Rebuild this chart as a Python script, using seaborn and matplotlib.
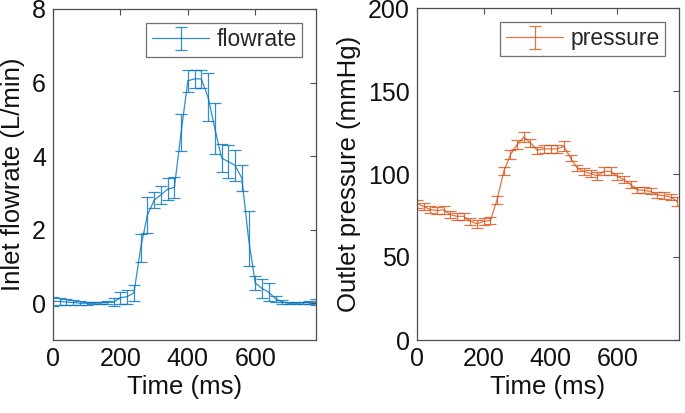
import numpy as np
import pandas as pd
import matplotlib
matplotlib.use('Agg')
import matplotlib.pyplot as plt
import seaborn as sns

# --- data (every 20 ms) ---
time_ms = list(range(0, 800, 20))

flow_mean = [0.05, 0.05, 0.03, 0.02, 0.0, 0.0, 0.0, 0.01, 0.02, 0.03,
             0.15, 0.18, 0.28, 1.5, 2.4, 2.8, 2.95, 3.1, 3.15, 4.65,
             6.05, 6.1, 6.1, 5.6, 4.75, 3.95, 3.85, 3.75, 3.4, 1.75,
             0.55, 0.4, 0.3, 0.12, 0.03, 0.0, 0.0, 0.01, 0.02, 0.03]
flow_err = [0.12, 0.1, 0.08, 0.06, 0.05, 0.04, 0.03, 0.03, 0.05, 0.1,
            0.16, 0.19, 0.22, 0.37, 0.5, 0.22, 0.25, 0.3, 0.28, 0.5,
            0.3, 0.25, 0.25, 0.65, 0.7, 0.37, 0.45, 0.42, 0.35, 0.75,
            0.2, 0.25, 0.25, 0.08, 0.05, 0.03, 0.03, 0.03, 0.05, 0.08]

press_mean = [82.1, 80.5, 78.5, 78.0, 78.5, 75.5, 74.5, 74.5, 71.5, 70.0,
              71.5, 72.0, 84.5, 101.6, 111.7, 117.7, 122.3, 118.7, 114.3, 115.1,
              115.1, 115.1, 116.7, 109.7, 103.6, 101.6, 100.2, 99.0, 101.6, 101.6,
              98.6, 96.6, 93.6, 90.5, 90.1, 89.5, 87.5, 86.9, 86.1, 83.5]
press_err = [2.5, 2.2, 2.0, 2.0, 2.5, 2.0, 2.0, 2.3, 2.0, 2.5,
             2.0, 2.0, 2.5, 2.5, 2.5, 2.5, 2.8, 2.5, 2.0, 2.5,
             2.5, 2.5, 3.0, 2.0, 2.0, 2.0, 2.0, 2.5, 2.5, 2.5,
             2.0, 2.0, 2.0, 1.8, 1.8, 1.8, 1.8, 2.0, 2.0, 2.5]

flow_df = pd.DataFrame({'Time': time_ms, 'Flow': flow_mean, 'Err': flow_err})
press_df = pd.DataFrame({'Time': time_ms, 'Pressure': press_mean, 'Err': press_err})

sns.set_theme(style='white')
plt.rcParams['font.family'] = ['Liberation Sans', 'DejaVu Sans']

blue = '#0072BD'
orange = '#D95319'

fig = plt.figure(figsize=(6.85, 4.13), dpi=100)
ax1 = fig.add_axes([53 / 685, 1 - 340 / 413, 263 / 685, 331 / 413])
ax2 = fig.add_axes([417 / 685, 1 - 340 / 413, 262 / 685, 332 / 413])


def style_axes(ax):
    for s in ax.spines.values():
        s.set_color('#4d4d4d')
        s.set_linewidth(0.9)
    ax.tick_params(direction='in', length=4, width=0.8, color='#4d4d4d',
                   top=True, right=True, labelsize=18, labelcolor='#111111', pad=5)


def add_legend(ax):
    leg = ax.legend(loc='upper right', fontsize=16.5, frameon=True, fancybox=False,
                    handlelength=2.5, borderpad=0.25, handletextpad=0.3,
                    borderaxespad=0.6)
    leg.get_frame().set_edgecolor('#4d4d4d')
    leg.get_frame().set_linewidth(0.9)


# flowrate panel
ax1.errorbar(flow_df['Time'], flow_df['Flow'], yerr=flow_df['Err'], color=blue,
             lw=0.9, elinewidth=0.9, capsize=4.5, capthick=0.9, alpha=0.8,
             label='flowrate')
ax1.set_xlim(0, 780)
ax1.set_ylim(-1, 8)
ax1.set_xticks([0, 200, 400, 600])
ax1.set_yticks([0, 2, 4, 6, 8])
ax1.set_xlabel('Time (ms)', fontsize=18.5, labelpad=3, color='#111111')
ax1.set_ylabel('Inlet flowrate (L/min)', fontsize=18.5, labelpad=5, color='#111111')
style_axes(ax1)
add_legend(ax1)

# pressure panel
ax2.errorbar(press_df['Time'], press_df['Pressure'], yerr=press_df['Err'], color=orange,
             lw=0.9, elinewidth=0.9, capsize=4.5, capthick=0.9, alpha=0.8,
             label='pressure')
ax2.set_xlim(0, 785)
ax2.set_ylim(0, 200)
ax2.set_xticks([0, 200, 400, 600])
ax2.set_yticks([0, 50, 100, 150, 200])
ax2.set_xlabel('Time (ms)', fontsize=18.5, labelpad=3, color='#111111')
ax2.set_ylabel('Outlet pressure (mmHg)', fontsize=18.5, labelpad=5, color='#111111')
style_axes(ax2)
add_legend(ax2)

fig.savefig('out.png', dpi=100)
